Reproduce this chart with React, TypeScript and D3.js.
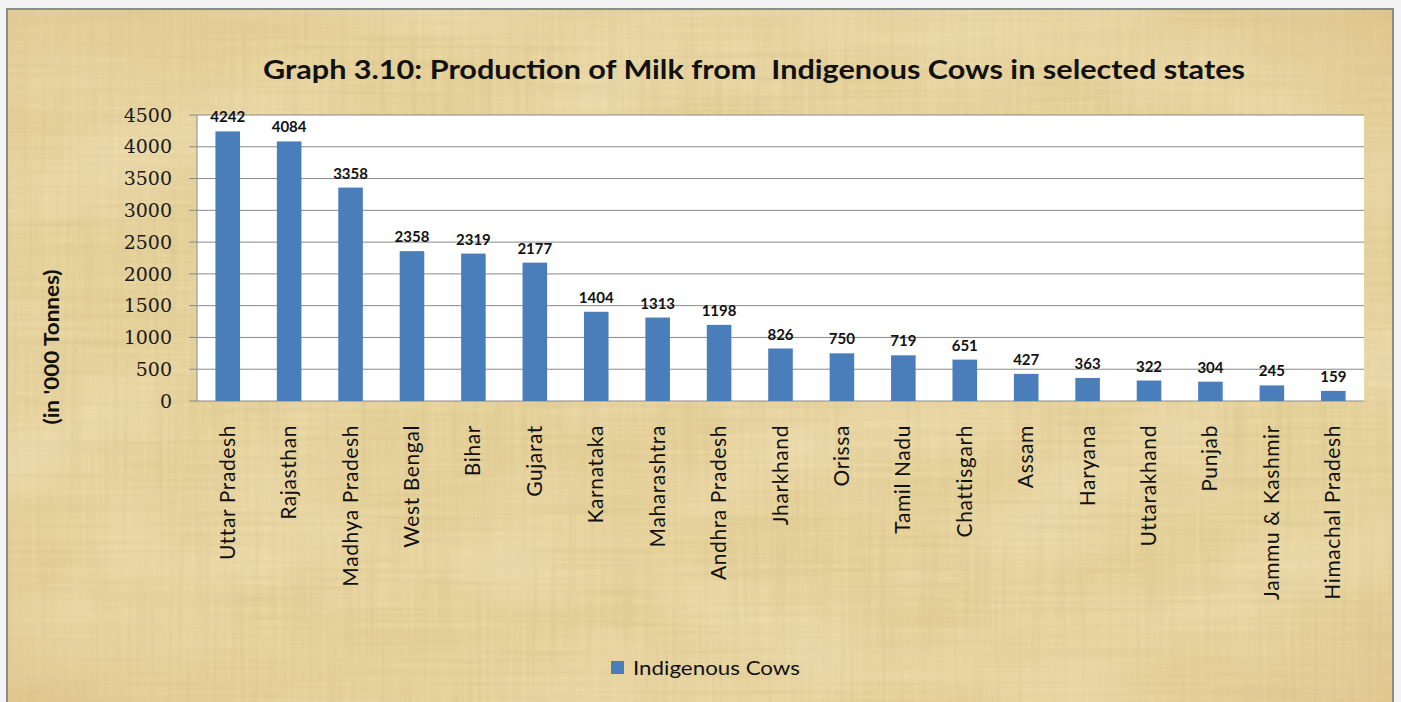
import React from "react";
import * as d3 from "d3";

const states = [
  "Uttar Pradesh", "Rajasthan", "Madhya Pradesh", "West Bengal", "Bihar", "Gujarat",
  "Karnataka", "Maharashtra", "Andhra Pradesh", "Jharkhand", "Orissa", "Tamil Nadu",
  "Chattisgarh", "Assam", "Haryana", "Uttarakhand", "Punjab", "Jammu & Kashmir", "Himachal Pradesh",
];
const production = [4242, 4084, 3358, 2358, 2319, 2177, 1404, 1313, 1198, 826, 750, 719, 651, 427, 363, 322, 304, 245, 159];
const yTicks = [0, 500, 1000, 1500, 2000, 2500, 3000, 3500, 4000, 4500];
const title = "Graph 3.10: Production of Milk from  Indigenous Cows in selected states";
const yTitle = "(in '000 Tonnes)";
const seriesName = "Indigenous Cows";

const W = 1401, H = 702;
const plot = { left: 197, right: 1364, top: 115, bottom: 401 };
const BAR = "#4a7ebb";
const GRID = "#8a8a8a";
const SANS = "Lato, 'Noto Sans', sans-serif";

export default function App() {
  const x = d3.scaleBand<string>().domain(states).range([plot.left, plot.right]).paddingInner(0.6).paddingOuter(0.3);
  const y = d3.scaleLinear().domain([0, 4500]).range([plot.bottom, plot.top]);
  return (
    <div style={{ position: "absolute", left: 0, top: 0 }}>
      <svg width={W} height={H} style={{ display: "block" }}>
        <defs>
          <filter id="papyrus" x="0" y="0" width="100%" height="100%">
            <feTurbulence type="fractalNoise" baseFrequency="0.006 0.22" numOctaves="3" seed="3" result="n1" />
            <feTurbulence type="fractalNoise" baseFrequency="0.22 0.006" numOctaves="3" seed="7" result="n2" />
            <feBlend in="n1" in2="n2" mode="multiply" result="n" />
            <feColorMatrix in="n" type="matrix"
              values="0 0 0 0 0.55  0 0 0 0 0.42  0 0 0 0 0.18  -1.2 0 0 0 0.8" />
          </filter>
          <filter id="blotch" x="0" y="0" width="100%" height="100%">
            <feTurbulence type="fractalNoise" baseFrequency="0.006 0.01" numOctaves="2" seed="11" result="b" />
            <feColorMatrix in="b" type="matrix"
              values="0 0 0 0 0.98  0 0 0 0 0.93  0 0 0 0 0.78  1.4 0 0 0 -0.55" />
          </filter>
          <radialGradient id="vign" cx="50%" cy="50%" r="75%">
            <stop offset="60%" stopColor="#f3e2b0" stopOpacity="0" />
            <stop offset="100%" stopColor="#c9a55c" stopOpacity="0.35" />
          </radialGradient>
        </defs>
        <rect x={0} y={0} width={W} height={H} fill="#f4f4f4" />
        <rect x={7} y={9} width={1386} height={H} fill="#ead6a0" stroke="#8c8c8c" strokeWidth={2} />
        <rect x={8} y={10} width={1384} height={H - 10} filter="url(#papyrus)" opacity={0.5} />
        <rect x={8} y={10} width={1384} height={H - 10} filter="url(#blotch)" opacity={0.35} />
        <rect x={8} y={10} width={1384} height={H - 10} fill="url(#vign)" />

        <text x={754} y={79} textAnchor="middle" fontFamily={SANS} fontWeight="bold" fontSize={27}
          textLength={982} lengthAdjust="spacingAndGlyphs" fill="#111" style={{ whiteSpace: "pre" }}>{title}</text>

        <rect x={plot.left} y={plot.top} width={plot.right - plot.left} height={plot.bottom - plot.top} fill="#ffffff" />
        {yTicks.map((t) => (
          <g key={t}>
            <line x1={189} x2={plot.right} y1={y(t)} y2={y(t)} stroke={GRID} strokeWidth={1} />
            <text x={172} y={y(t)} dy="0.35em" textAnchor="end" fontFamily="'DejaVu Serif', serif"
              fontSize={19} fill="#1a1a1a">{t}</text>
          </g>
        ))}
        <line x1={plot.left} x2={plot.left} y1={plot.top} y2={plot.bottom} stroke={GRID} strokeWidth={1} />

        {states.map((s, i) => {
          const v = production[i];
          const bx = x(s)!;
          const cx = bx + x.bandwidth() / 2;
          return (
            <g key={s}>
              <rect x={bx} y={y(v)} width={x.bandwidth()} height={plot.bottom - y(v)} fill={BAR} />
              <text x={cx} y={y(v) - 9} textAnchor="middle" fontFamily={SANS} fontWeight="bold"
                fontSize={15} fill="#111">{v}</text>
              <text transform={`translate(${cx + 7},${425}) rotate(-90)`} textAnchor="end"
                fontFamily={SANS} fontSize={21} letterSpacing={0.6} fill="#111">{s}</text>
            </g>
          );
        })}

        <text transform={`translate(59,347) rotate(-90)`} textAnchor="middle" fontFamily={SANS}
          fontWeight="bold" fontSize={20} textLength={155} lengthAdjust="spacingAndGlyphs"
          fill="#111" style={{ whiteSpace: "pre" }}>{yTitle}</text>

        <rect x={611} y={661} width={13} height={13} fill={BAR} />
        <text x={633} y={675} fontFamily={SANS} fontSize={20} textLength={167}
          lengthAdjust="spacingAndGlyphs" fill="#111">{seriesName}</text>
      </svg>
    </div>
  );
}
